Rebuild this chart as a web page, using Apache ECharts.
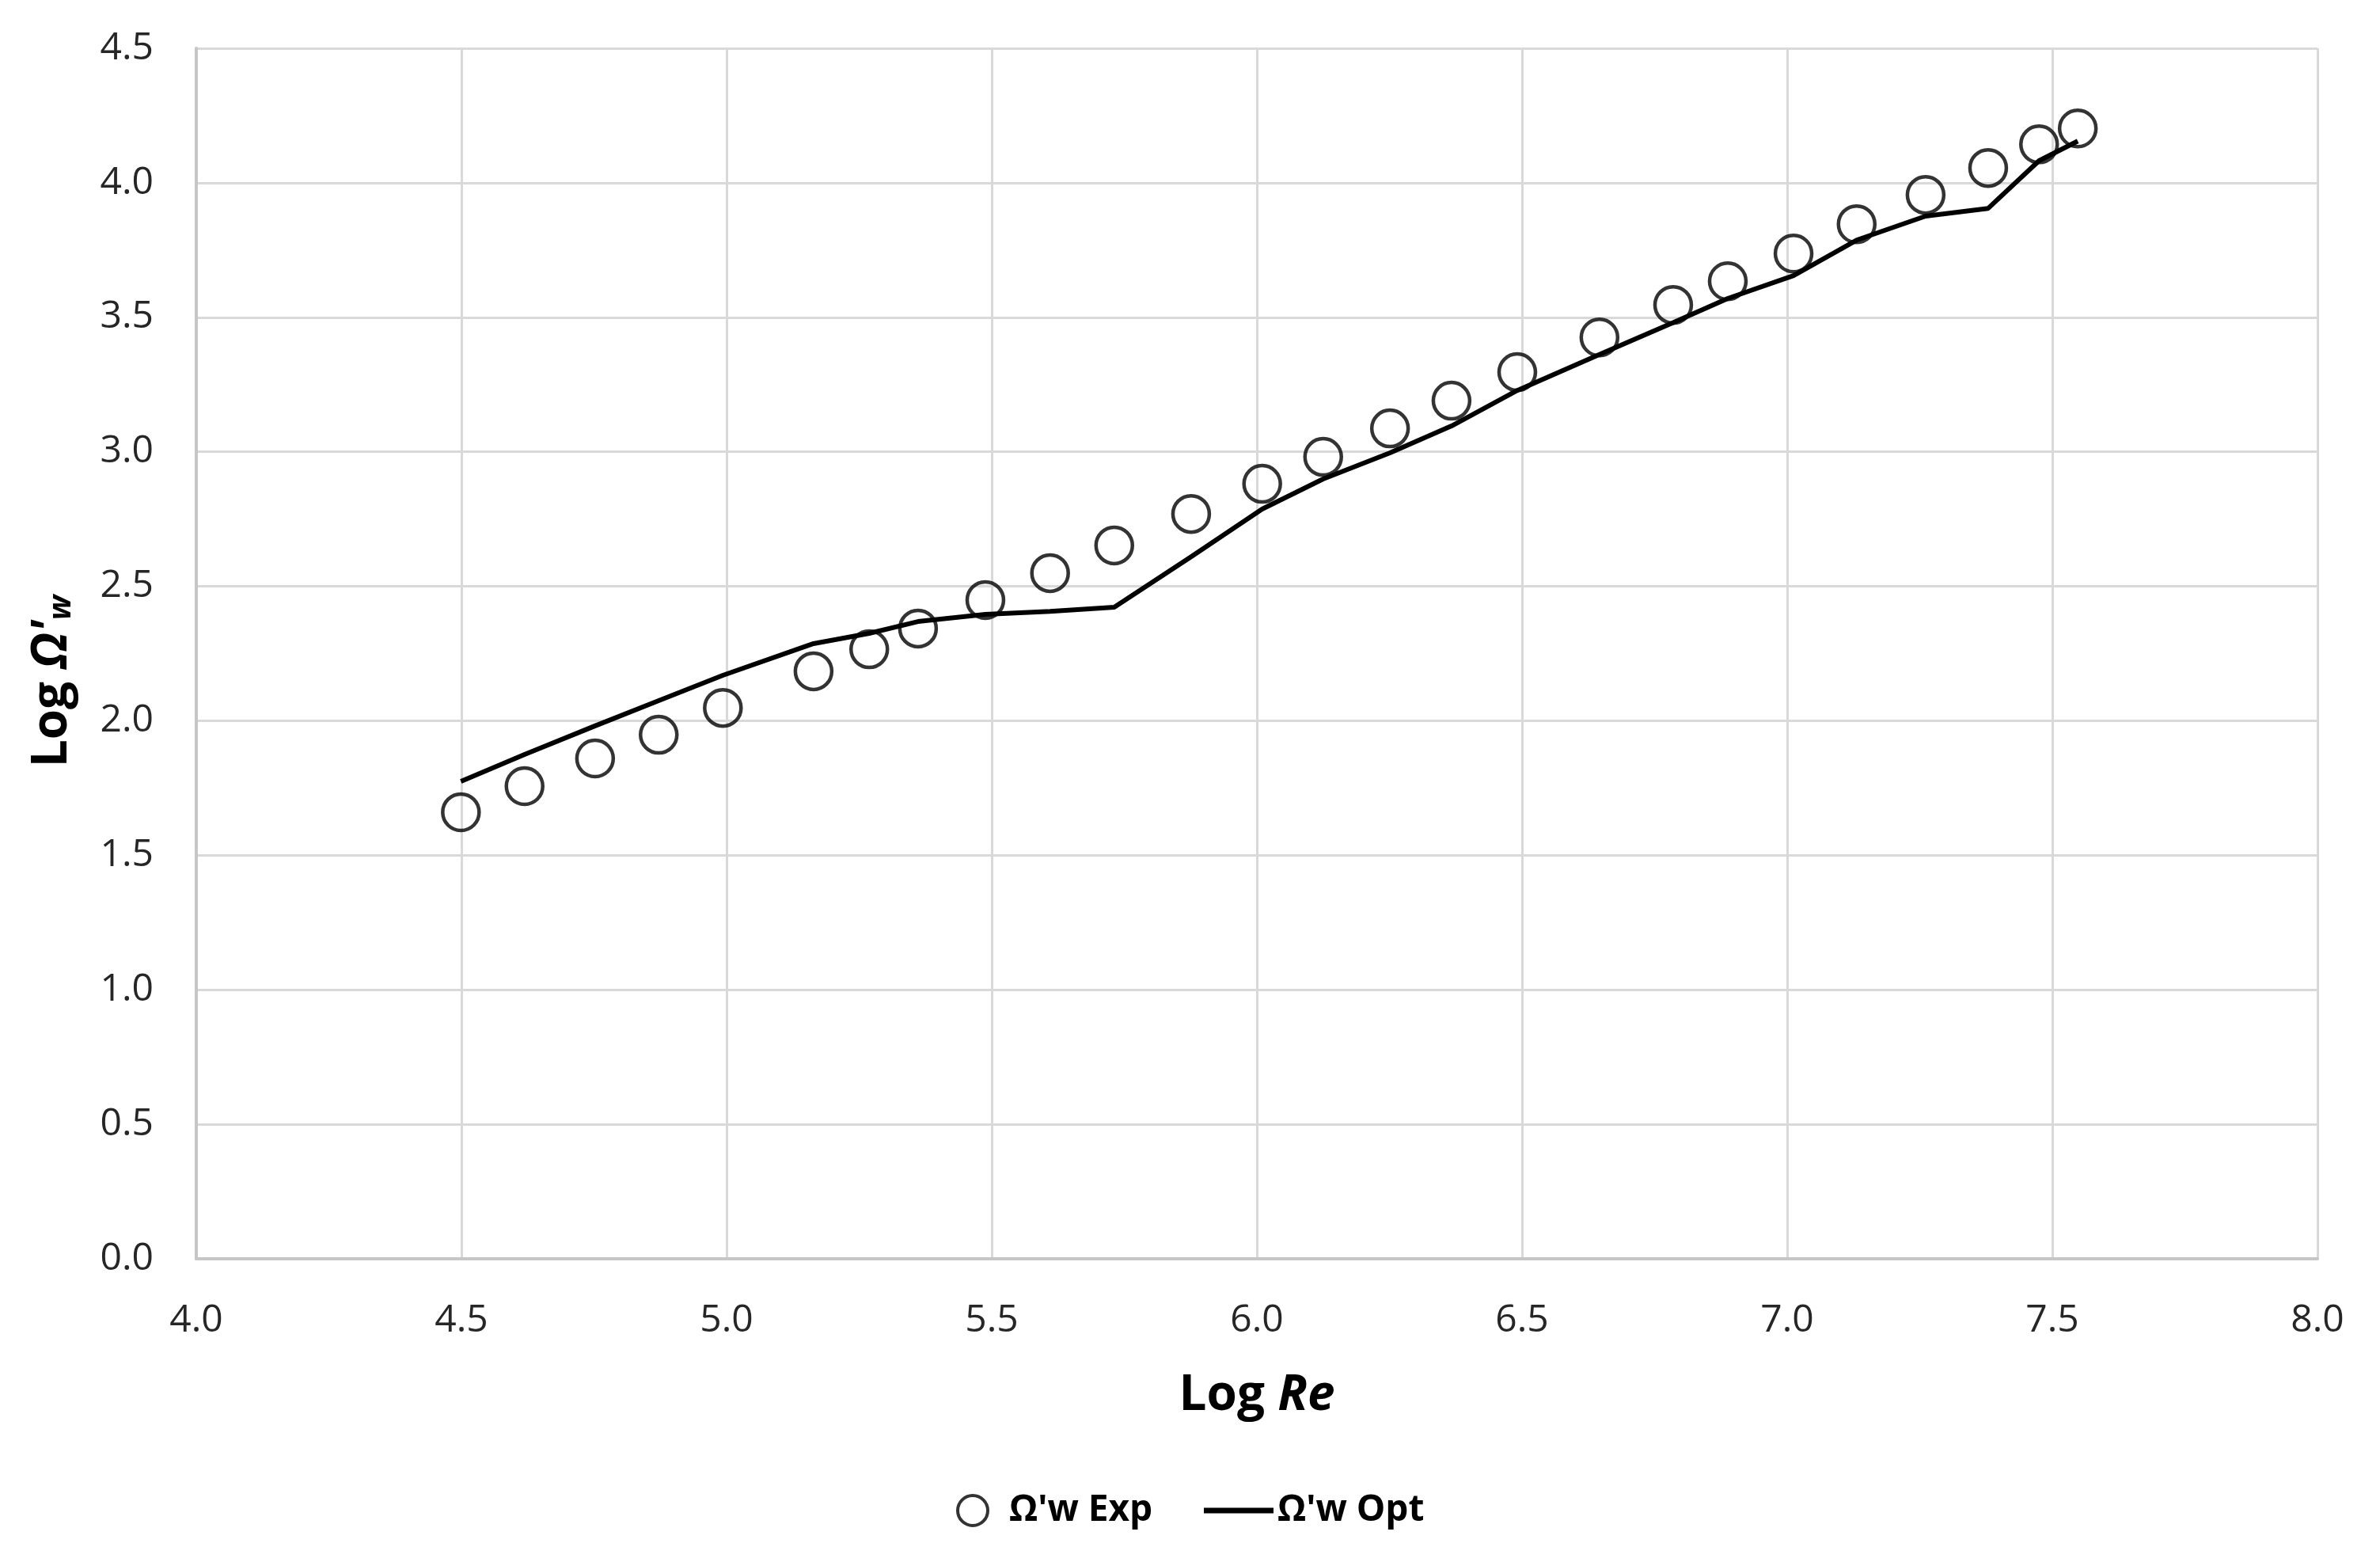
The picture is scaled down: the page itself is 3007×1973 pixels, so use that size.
<!DOCTYPE html>
<html>
<head>
<meta charset="utf-8">
<script src="https://cdn.jsdelivr.net/npm/echarts@6/dist/echarts.min.js"></script>
<style>
html,body{margin:0;padding:0;background:#fff;}
#chart{width:3007px;height:1973px;}
</style>
</head>
<body>
<div id="chart"></div>
<script>
const logRe = [4.499, 4.619, 4.752, 4.872, 4.993, 5.164, 5.269, 5.361, 5.488, 5.610, 5.731, 5.876, 6.010, 6.125, 6.251, 6.367, 6.491, 6.646, 6.785, 6.888, 7.012, 7.131, 7.261, 7.379, 7.475, 7.548];
const expValues = [1.660, 1.757, 1.860, 1.948, 2.048, 2.184, 2.266, 2.343, 2.449, 2.549, 2.652, 2.769, 2.881, 2.981, 3.087, 3.190, 3.296, 3.425, 3.546, 3.634, 3.737, 3.846, 3.955, 4.055, 4.143, 4.202];
const optValues = [1.775, 1.875, 1.981, 2.075, 2.169, 2.287, 2.325, 2.369, 2.396, 2.407, 2.422, 2.610, 2.787, 2.899, 2.996, 3.096, 3.228, 3.362, 3.480, 3.570, 3.655, 3.787, 3.876, 3.905, 4.082, 4.155];
const xTicks = { min: 4.0, max: 8.0, step: 0.5 };
const yTicks = { min: 0.0, max: 4.5, step: 0.5 };
const expName = "Ω'w Exp";
const optName = "Ω'w Opt";

const FONT = '"Open Sans", "Noto Sans", sans-serif';
const chart = echarts.init(document.getElementById('chart'), null, { renderer: 'canvas' });

const expData = logRe.map((x, i) => [x, expValues[i]]);
const optData = logRe.map((x, i) => [x, optValues[i]]);

const option = {
  backgroundColor: '#ffffff',
  animation: false,
  textStyle: { fontFamily: FONT },
  grid: { left: 248, right: 79, top: 61, bottom: 383, containLabel: false },
  xAxis: {
    type: 'value', min: xTicks.min, max: xTicks.max, interval: xTicks.step,
    name: 'Log {i|Re}',
    nameLocation: 'middle', nameGap: 142,
    nameTextStyle: {
      fontSize: 62, fontWeight: 'bold', color: '#000', fontFamily: FONT,
      rich: { i: { fontSize: 62, fontWeight: 'bold', fontStyle: 'italic', color: '#000', fontFamily: FONT } }
    },
    axisLine: { show: true, lineStyle: { color: '#c6c6c6', width: 4 } },
    axisTick: { show: false },
    axisLabel: { fontSize: 48, color: '#262626', margin: 54, fontFamily: FONT, formatter: v => v.toFixed(1) },
    splitLine: { show: true, lineStyle: { color: '#d9d9d9', width: 3 } }
  },
  yAxis: {
    type: 'value', min: yTicks.min, max: yTicks.max, interval: yTicks.step,
    name: "{b|Log }{o|Ω'}{w|w}",
    nameLocation: 'middle', nameGap: 150, nameRotate: 90,
    nameTextStyle: {
      fontSize: 62, fontWeight: 'bold', color: '#000', fontFamily: FONT,
      padding: [0, 70, 0, 0],
      rich: {
        b: { fontSize: 62, fontWeight: 'bold', color: '#000', fontFamily: FONT },
        o: { fontSize: 62, fontWeight: 'bold', fontStyle: 'italic', color: '#000', fontFamily: FONT },
        w: { fontSize: 40, fontWeight: 'bold', fontStyle: 'italic', color: '#000', fontFamily: FONT, padding: [24, 0, 0, 0] }
      }
    },
    axisLine: { show: true, lineStyle: { color: '#c6c6c6', width: 4 } },
    axisTick: { show: false },
    axisLabel: { fontSize: 48, color: '#262626', margin: 54, fontFamily: FONT, formatter: v => v.toFixed(1) },
    splitLine: { show: true, lineStyle: { color: '#d9d9d9', width: 3 } }
  },
  legend: [
    {
      data: [{ name: expName, icon: 'circle', itemStyle: { color: '#ffffff', borderColor: '#000', borderWidth: 4 } }],
      left: 1203, top: 1880, itemWidth: 38, itemHeight: 38,
      textStyle: { fontSize: 46, fontWeight: 'bold', color: '#000', fontFamily: FONT, padding: [0, 0, 0, 22] },
      selectedMode: false
    },
    {
      data: [{ name: optName, icon: 'rect', itemStyle: { color: '#000' } }],
      left: 1516, top: 1880, itemWidth: 88, itemHeight: 7,
      textStyle: { fontSize: 46, fontWeight: 'bold', color: '#000', fontFamily: FONT },
      selectedMode: false
    }
  ],
  series: [
    {
      name: optName, type: 'line', data: optData,
      symbol: 'none', showSymbol: false,
      lineStyle: { color: '#000', width: 6 },
      itemStyle: { color: '#000' },
      z: 2
    },
    {
      name: expName, type: 'scatter', data: expData,
      symbol: 'circle', symbolSize: 46,
      itemStyle: { color: 'rgba(255,255,255,0)', borderColor: '#000', borderWidth: 4.5 },
      z: 3
    }
  ]
};
chart.setOption(option);
</script>
</body>
</html>
